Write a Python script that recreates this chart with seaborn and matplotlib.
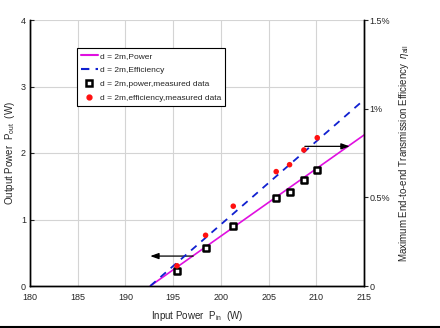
import matplotlib
matplotlib.use("Agg")
import matplotlib.pyplot as plt
from matplotlib.lines import Line2D
import numpy as np
import pandas as pd
import seaborn as sns

sns.set_style("white")
plt.rcParams["font.family"] = ["Liberation Sans", "DejaVu Sans"]
plt.rcParams["mathtext.fontset"] = "custom"
plt.rcParams["mathtext.rm"] = "Liberation Sans"
plt.rcParams["mathtext.it"] = "Liberation Sans:italic"

# Fitted curves (d = 2 m)
fit_pin = [192.6, 215.0]
fit_power = [0.0, 2.27]          # W
fit_eff = [0.0, 1.05]            # %

# Measured data (d = 2 m)
meas_pin_power = [195.4, 198.4, 201.3, 205.8, 207.2, 208.7, 210.1]
meas_power = [0.22, 0.57, 0.90, 1.32, 1.42, 1.60, 1.75]
meas_pin_eff = [195.4, 198.4, 201.3, 205.8, 207.2, 208.7, 210.1]
meas_eff = [0.114, 0.286, 0.450, 0.645, 0.684, 0.767, 0.836]

x_ticks = [180, 185, 190, 195, 200, 205, 210, 215]
y_ticks = [0, 1, 2, 3, 4]
eff_ticks = [0, 0.5, 1.0, 1.5]
eff_labels = ["0", "0.5%", "1%", "1.5%"]

MAGENTA = "#e010e0"
BLUE = "#1020d0"

fig = plt.figure(figsize=(4.4, 3.28), dpi=100)
ax = fig.add_axes([30 / 440, 1 - 286 / 328, 334 / 440, 266 / 328])
ax2 = ax.twinx()

df_fit = pd.DataFrame({"pin": fit_pin, "power": fit_power, "eff": fit_eff})
df_p = pd.DataFrame({"pin": meas_pin_power, "power": meas_power})
df_e = pd.DataFrame({"pin": meas_pin_eff, "eff": meas_eff})

sns.lineplot(data=df_fit, x="pin", y="power", ax=ax, color=MAGENTA, lw=1.2)
sns.scatterplot(data=df_p, x="pin", y="power", ax=ax, marker="s", s=18,
                facecolor="white", edgecolor="black", linewidth=1.8, zorder=5)
sns.lineplot(data=df_fit, x="pin", y="eff", ax=ax2, color=BLUE, lw=1.3,
             dashes=False)
ax2.lines[-1].set_dashes([4, 3.5])
sns.scatterplot(data=df_e, x="pin", y="eff", ax=ax2, marker="o", s=16,
                color="#ff1010", edgecolor="none", zorder=5)

ax.set_xlim(180, 215)
ax.set_ylim(0, 4)
ax2.set_ylim(0, 1.5)
ax.set_xticks(x_ticks)
ax.set_yticks(y_ticks)
ax2.set_yticks(eff_ticks)
ax2.set_yticklabels(eff_labels)

ax.grid(True, color="#d4d4d4", lw=0.8)
ax.set_axisbelow(True)

for a in (ax, ax2):
    for side in ("left", "bottom", "right"):
        a.spines[side].set_color("black")
        a.spines[side].set_linewidth(1.0)
    a.spines["top"].set_visible(False)
ax.tick_params(axis="x", direction="in", length=3, width=0.8,
               labelsize=6.5, pad=5)
ax.tick_params(axis="y", direction="in", length=3, width=0.8,
               labelsize=6.5, pad=3)
ax2.tick_params(axis="y", direction="out", length=3, width=0.8,
                labelsize=6.5, pad=1)

ax.set_xlabel(r"Input Power  P$_{\rm in}$  (W)", fontsize=7, labelpad=5)
ax.set_ylabel(r"Output Power  P$_{\rm out}$  (W)", fontsize=7, labelpad=3)
ax2.set_ylabel(r"Maximum End-to-end Transmission Efficiency  $\eta_{\rm all}$",
               fontsize=7, labelpad=5)

# Direction arrows pointing at the corresponding axes
ax.annotate("", xy=(192.6, 0.45), xytext=(197.1, 0.45),
            arrowprops=dict(arrowstyle="-|>,head_length=0.5,head_width=0.18",
                            color="black", lw=0.9, shrinkA=0, shrinkB=0))
ax.annotate("", xy=(213.5, 2.10), xytext=(208.8, 2.10),
            arrowprops=dict(arrowstyle="-|>,head_length=0.5,head_width=0.18",
                            color="black", lw=0.9, shrinkA=0, shrinkB=0))

handles = [
    Line2D([], [], color=MAGENTA, lw=1.5),
    Line2D([], [], color=BLUE, lw=1.5, dashes=[4, 3]),
    Line2D([], [], marker="s", ls="none", markersize=4.5, markerfacecolor="white",
           markeredgecolor="black", markeredgewidth=1.8),
    Line2D([], [], marker="o", ls="none", markersize=3.5, color="#ff1010"),
]
labels = ["d = 2m,Power", "d = 2m,Efficiency", "d = 2m,power,measured data",
          "d = 2m,efficiency,measured data"]
leg = ax2.legend(handles, labels, loc="upper left",
                 bbox_to_anchor=(0.141, 0.893), fontsize=6, frameon=True,
                 fancybox=False, edgecolor="black", framealpha=1,
                 handlelength=2.0, handletextpad=0.3, borderpad=0.45,
                 labelspacing=0.75, borderaxespad=0)
leg.get_frame().set_linewidth(0.8)

fig.add_artist(Line2D([0, 1], [1 / 328, 1 / 328], color="black", lw=1.5,
                      transform=fig.transFigure))

fig.savefig("out.png", dpi=100)
